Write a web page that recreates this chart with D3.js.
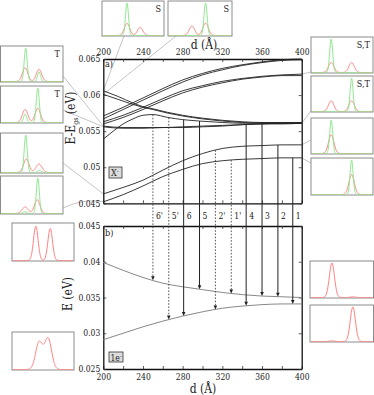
<!DOCTYPE html>
<html><head><meta charset="utf-8">
<script src="https://cdn.jsdelivr.net/npm/d3@7"></script>
<style>
body{margin:0;background:#fff}
svg{display:block}
text{font-family:"DejaVu Serif Condensed","DejaVu Serif",serif;fill:#222}
</style>
</head><body>
<svg id="c" width="374" height="395"></svg>
<script>
// ---------------- DATA ----------------
const dGrid = [200,220,240,260,280,300,320,340,360,380,400];
const xTickLabels = [200,240,280,320,360,400];
const yTicksA = [0.045,0.05,0.055,0.06,0.065];
const yTicksB = [0.025,0.03,0.035,0.04,0.045];

// panel a) X- levels (eV) on dGrid
const U1 = [0.0571,0.0583,0.0596,0.0609,0.0621,0.0630,0.0637,0.0642,0.0646,0.0649,0.0650];
const U2 = [0.0567,0.0580,0.0593,0.0606,0.0618,0.0628,0.0635,0.0641,0.0645,0.0648,0.0649];
const U3 = [0.0563,0.0572,0.0583,0.0595,0.0606,0.0613,0.0619,0.0623,0.0626,0.0628,0.0629];
const U4 = [0.0560,0.0569,0.0580,0.0592,0.0603,0.0611,0.0617,0.0622,0.0625,0.0627,0.0627];
const F1 = [0.0557,0.0555,0.0555,0.0555,0.0556,0.0557,0.0558,0.0559,0.0560,0.0561,0.0561];
const F2 = [0.0556,0.0554,0.0554,0.0555,0.0555,0.0556,0.0557,0.0559,0.0560,0.0560,0.0561];
const L1 = [0.0463,0.0472,0.0482,0.0496,0.0509,0.0519,0.0526,0.0529,0.0530,0.0531,0.0531];
const L2 = [0.0452,0.0462,0.0474,0.0487,0.0497,0.0505,0.0509,0.0511,0.0512,0.0513,0.0513];
const dD = [200,215,230,240,250,265,280,300,320,340,360,380,400];
const D1 = [0.0606,0.0598,0.0589,0.0584,0.0581,0.0576,0.0572,0.0568,0.0565,0.0563,0.0562,0.0562,0.0562];
const D2 = [0.0601,0.0594,0.0587,0.0583,0.0580,0.0575,0.0571,0.0567,0.0564,0.0562,0.0561,0.0561,0.0561];
const dH = [200,210,220,230,240,250,265,280,297,320,340,360,380,400];
const H  = [0.0539,0.0550,0.0560,0.0567,0.0572,0.0573,0.0569,0.0566,0.0564,0.0562,0.0561,0.0561,0.0561,0.0561];

// panel b) 1e- levels (eV) on dGrid
const B1 = [0.0399,0.0388,0.0378,0.0370,0.0365,0.0361,0.0357,0.0354,0.0352,0.0351,0.0350];
const B2 = [0.0291,0.0300,0.0309,0.0317,0.0324,0.0330,0.0335,0.0338,0.0340,0.0341,0.0341];

// transitions
const arrowLabels = ["6'","5'","6","5","2'","1'","4","3","2","1"];
const arrowD      = [250,266,281,297,313,329,344,360,376,391];
const arrowFrom   = ["H","H","H","H","L1","L2","F1","F1","L1","L2"];
const arrowTo     = ["B1","B2","B2","B1","B2","B1","B2","B1","B1","B2"];
const arrowDashed = [true,true,false,false,true,true,false,false,false,false];

// inset wavefunction peaks: [centre, height, width] (fractions of inset box)
const insetLabels = ["S","S","T","T","","","S,T","S,T","","","","","",""];
const insetGreen = [
  [[0.40,0.97,0.025]],
  [[0.59,0.97,0.025]],
  [[0.40,0.97,0.025],[0.62,0.28,0.025]],
  [[0.60,0.97,0.025],[0.39,0.24,0.025]],
  [[0.40,0.97,0.025],[0.63,0.05,0.03]],
  [[0.60,0.97,0.025],[0.39,0.05,0.03]],
  [[0.32,0.97,0.025]],
  [[0.66,0.97,0.025]],
  [[0.32,0.97,0.025]],
  [[0.66,0.97,0.025]],
  [],[],[],[]
];
const insetRed = [
  [[0.40,0.36,0.045],[0.62,0.24,0.045]],
  [[0.37,0.28,0.045],[0.59,0.37,0.045]],
  [[0.39,0.40,0.045],[0.62,0.35,0.045]],
  [[0.39,0.37,0.045],[0.60,0.40,0.045]],
  [[0.41,0.35,0.045],[0.62,0.22,0.05]],
  [[0.59,0.38,0.045],[0.39,0.18,0.05]],
  [[0.32,0.29,0.045],[0.66,0.29,0.045]],
  [[0.32,0.31,0.045],[0.66,0.31,0.045]],
  [[0.32,0.54,0.045]],
  [[0.66,0.56,0.045]],
  [[0.38,0.94,0.038],[0.62,0.88,0.038]],
  [[0.435,0.75,0.058],[0.585,0.85,0.058]],
  [[0.34,0.97,0.042],[0.68,0.02,0.04]],
  [[0.68,0.97,0.042],[0.34,0.02,0.04]]
];

// ---------------- LAYOUT ----------------
const svg = d3.select("#c");
const x  = d3.scaleLinear([200,400],[103.3,301.7]);
const yA = d3.scaleLinear([0.045,0.065],[203.3,59]);
const yB = d3.scaleLinear([0.025,0.045],[369,226]);
const curves = {U1,U2,U3,U4,F1,F2,L1,L2,D1,D2,H,B1,B2};
const grids  = {U1:dGrid,U2:dGrid,U3:dGrid,U4:dGrid,F1:dGrid,F2:dGrid,L1:dGrid,L2:dGrid,D1:dD,D2:dD,H:dH,B1:dGrid,B2:dGrid};
const interp = name => d3.scaleLinear().domain(grids[name]).range(curves[name]);

const insetBoxes = [
  [102,1,164,36],[168,1,232,36],
  [0.5,46,63,82],[0.5,86,63,123],[0.5,133,63,173],[0.5,176,63,214],
  [311,37,373,73],[311,76,373,112],[311,118,373,154],[311,158,373,195],
  [12,223,74,261],[12,332,74,370],[310,261,373.5,298],[310,305,373.5,342]
];

// connector lines (grey)
const conn = svg.append("g").attr("stroke","#bdbdbd").attr("stroke-width",0.9).attr("fill","none");
const cp = (x1,y1,x2,y2)=>conn.append("line").attr("x1",x1).attr("y1",y1).attr("x2",x2).attr("y2",y2);
cp(124,36,x(200),yA(D1[0]));
cp(176,36,x(200),yA(D2[0]));
cp(63,76,x(200),yA(F1[0]));
cp(63,110,x(200),yA(F2[0]));
cp(63,163,x(200),yA(L1[0]));
conn.append("path").attr("d",`M63,208 Q84,198 ${x(200)},${yA(L2[0])}`);
cp(311,72,x(400),yA(U3[10]));
cp(311,111,x(400),yA(F1[10]));
cp(311,140,x(400),yA(L1[10]));
cp(311,163,x(400),yA(L2[10]));

// axes helper
function styleAxis(g){
  g.selectAll("path.domain").attr("stroke","#111").attr("stroke-width",1.3);
  g.selectAll(".tick line").attr("stroke","#333").attr("stroke-width",0.8);
  g.selectAll("text").attr("font-family",'"DejaVu Serif Condensed","DejaVu Serif",serif').attr("font-size",8.5).attr("fill","#222");
  g.attr("font-family",null).attr("font-size",null);
}
const minorX = d3.range(200,401,20);
const fmtX = d => xTickLabels.includes(d) ? String(d) : "";

// panel a axes
svg.append("g").attr("transform",`translate(0,${yA(0.065)})`)
  .call(d3.axisTop(x).tickValues(minorX).tickFormat(fmtX).tickSize(-3).tickSizeOuter(0).tickPadding(4)).call(styleAxis);
svg.append("g").attr("transform",`translate(0,${yA(0.045)})`)
  .call(d3.axisBottom(x).tickValues(minorX).tickFormat("").tickSize(-3).tickSizeOuter(0)).call(styleAxis);
svg.append("g").attr("transform",`translate(${x(200)},0)`)
  .call(d3.axisLeft(yA).tickValues(yTicksA).tickFormat(d=>String(+d.toFixed(3))).tickSize(-3).tickSizeOuter(0).tickPadding(3)).call(styleAxis);
svg.append("g").attr("transform",`translate(${x(400)},0)`)
  .call(d3.axisRight(yA).tickValues(yTicksA).tickFormat("").tickSize(-3).tickSizeOuter(0)).call(styleAxis);

// panel b axes
svg.append("g").attr("transform",`translate(0,${yB(0.025)})`)
  .call(d3.axisBottom(x).tickValues(minorX).tickFormat(fmtX).tickSize(-3).tickSizeOuter(0).tickPadding(5)).call(styleAxis);
svg.append("g").attr("transform",`translate(0,${yB(0.045)})`)
  .call(d3.axisTop(x).tickValues(minorX).tickFormat("").tickSize(-3).tickSizeOuter(0)).call(styleAxis);
svg.append("g").attr("transform",`translate(${x(200)},0)`)
  .call(d3.axisLeft(yB).tickValues(yTicksB).tickFormat(d=>String(+d.toFixed(3))).tickSize(-3).tickSizeOuter(0).tickPadding(3)).call(styleAxis);
svg.append("g").attr("transform",`translate(${x(400)},0)`)
  .call(d3.axisRight(yB).tickValues(yTicksB).tickFormat("").tickSize(-3).tickSizeOuter(0)).call(styleAxis);

// curves panel a
const lineA = d3.line().x(d=>x(d[0])).y(d=>yA(d[1])).curve(d3.curveMonotoneX);
const lineB = d3.line().x(d=>x(d[0])).y(d=>yB(d[1])).curve(d3.curveMonotoneX);
["U1","U2","U3","U4","F1","F2","L1","L2","D1","D2","H"].forEach(n=>{
  svg.append("path").attr("d",lineA(d3.zip(grids[n],curves[n])))
    .attr("fill","none").attr("stroke","#222").attr("stroke-width",0.9);
});
["B1","B2"].forEach(n=>{
  svg.append("path").attr("d",lineB(d3.zip(grids[n],curves[n])))
    .attr("fill","none").attr("stroke","#888").attr("stroke-width",1);
});

// transition arrows
arrowD.forEach((d,i)=>{
  const xx = x(d);
  const y0 = yA(interp(arrowFrom[i])(d));
  const y1 = yB(interp(arrowTo[i])(d));
  svg.append("line").attr("x1",xx).attr("x2",xx).attr("y1",y0).attr("y2",y1-3)
    .attr("stroke", arrowDashed[i] ? "#444" : "#222").attr("stroke-width", arrowDashed[i]?0.9:1)
    .attr("stroke-dasharray", arrowDashed[i] ? "1.6,1.6" : null);
  svg.append("path").attr("d",`M${xx-1.8},${y1-4} L${xx+1.8},${y1-4} L${xx},${y1} Z`).attr("fill","#222");
  svg.append("text").attr("x",xx+3).attr("y",219).attr("font-size",8.5).text(arrowLabels[i]);
});

// insets
insetBoxes.forEach((b,i)=>{
  const [x0,y0,x1,y1] = b;
  const g = svg.append("g");
  g.append("rect").attr("x",x0).attr("y",y0).attr("width",x1-x0).attr("height",y1-y0)
    .attr("fill","#fff").attr("stroke","#8c8c8c").attr("stroke-width",1);
  const ix = d3.scaleLinear([0,1],[x0+1,x1-1]);
  const iy = d3.scaleLinear([0,1],[y1-0.5,y0+1]);
  const xs = d3.range(0,1.0001,0.005);
  const f = peaks => xs.map(t=>[t, d3.sum(peaks, p=>p[1]*Math.exp(-((t-p[0])**2)/(2*p[2]*p[2])))]);
  const il = d3.line().x(d=>ix(d[0])).y(d=>iy(d[1]));
  if (insetRed[i].length) g.append("path").attr("d",il(f(insetRed[i]))).attr("fill","none").attr("stroke","#ff7f7f").attr("stroke-width",1);
  if (insetGreen[i].length) g.append("path").attr("d",il(f(insetGreen[i]))).attr("fill","none").attr("stroke","#8fe88f").attr("stroke-width",1);
  if (insetLabels[i]) g.append("text").attr("x",x1-3).attr("y",y0+11).attr("text-anchor","end").attr("font-size",9).text(insetLabels[i]);
});

// titles
svg.append("text").attr("x",204).attr("y",49).attr("text-anchor","middle").attr("font-size",12).text("d (Å)");
svg.append("text").attr("x",203).attr("y",393).attr("text-anchor","middle").attr("font-size",12).text("d (Å)");
const ta = svg.append("text").attr("transform","translate(75,118) rotate(-90)").attr("text-anchor","middle").attr("font-size",12);
ta.append("tspan").text("E-E");
ta.append("tspan").attr("font-size",7).attr("dy",3).text("gs");
ta.append("tspan").attr("dy",-3).text(" (eV)");
svg.append("text").attr("transform","translate(72,294) rotate(-90)").attr("text-anchor","middle").attr("font-size",12).text("E (eV)");

svg.append("text").attr("x",105).attr("y",67).attr("font-size",9).text("a)");
svg.append("text").attr("x",105).attr("y",236).attr("font-size",9).text("b)");

svg.append("rect").attr("x",109).attr("y",167).attr("width",13).attr("height",11).attr("fill","#ddd").attr("stroke","#333").attr("stroke-width",0.8);
const tx = svg.append("text").attr("x",111).attr("y",176).attr("font-size",9);
tx.append("tspan").text("X");
tx.append("tspan").attr("font-size",6).attr("dy",-3).text("-");
svg.append("rect").attr("x",109).attr("y",352).attr("width",14).attr("height",10).attr("fill","#ddd").attr("stroke","#333").attr("stroke-width",0.8);
const te = svg.append("text").attr("x",110.5).attr("y",360.5).attr("font-size",8.5);
te.append("tspan").text("1e");
te.append("tspan").attr("font-size",6).attr("dy",-3).text("-");
</script>
</body></html>
